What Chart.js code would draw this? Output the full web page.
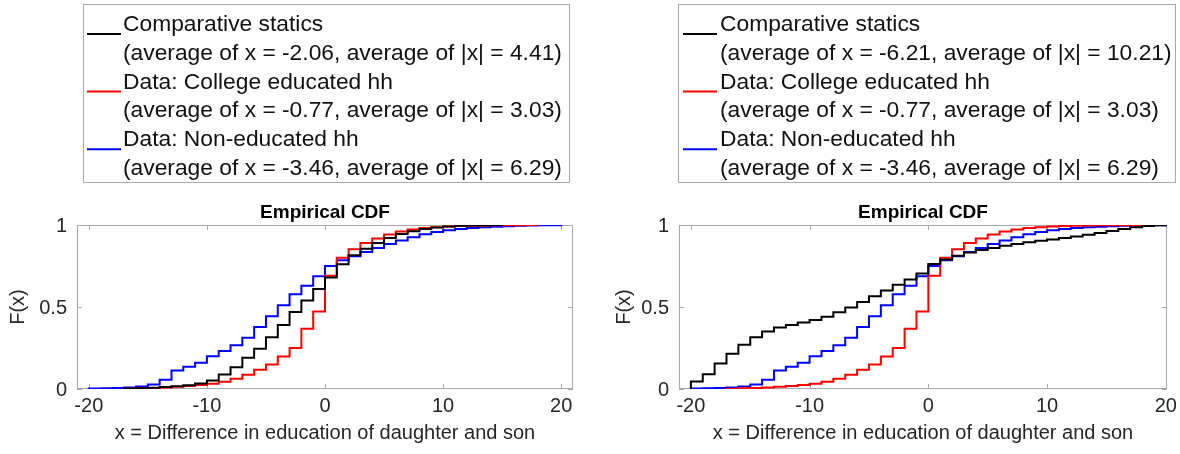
<!DOCTYPE html>
<html>
<head>
<meta charset="utf-8">
<script src="https://cdn.jsdelivr.net/npm/chart.js@4.4.1/dist/chart.umd.min.js"></script>
<style>
  html, body { margin: 0; padding: 0; background: #fff; }
  #wrap { position: relative; width: 1180px; height: 454px; overflow: hidden; }
  .panel { position: absolute; top: 0; width: 590px; height: 454px; }
</style>
</head>
<body>
<div id="wrap">
  <div class="panel" style="left:0"><canvas id="cdfLeft" width="590" height="454"></canvas></div>
  <div class="panel" style="left:590px"><canvas id="cdfRight" width="590" height="454"></canvas></div>
</div>
<script>
const xTicks = [-20, -10, 0, 10, 20];
const yTicks = [0, 0.5, 1];

// Data: College educated hh (same sample in both panels)
const collegeX = [-17, -16, -15, -14, -13, -12, -11, -10, -9, -8, -7, -6, -5, -4, -3, -2, -1, 0,
  1, 2, 3, 4, 5, 6, 7, 8, 9, 10, 11, 12, 13, 14, 15, 16, 17, 18];
const collegeF = [0.002, 0.004, 0.006, 0.009, 0.013, 0.018, 0.024, 0.032, 0.044, 0.063, 0.087, 0.117, 0.15, 0.198, 0.25, 0.368, 0.472, 0.69,
  0.80, 0.852, 0.89, 0.918, 0.942, 0.96, 0.972, 0.981, 0.987, 0.991, 0.994, 0.996, 0.997, 0.998, 0.999, 0.999, 0.9995, 1];

// Data: Non-educated hh (same sample in both panels)
const nonEduX = [-20, -19, -18, -17, -16, -15, -14, -13, -12, -11, -10, -9, -8, -7, -6, -5, -4, -3, -2, -1, 0,
  1, 2, 3, 4, 5, 6, 7, 8, 9, 10, 11, 12, 13, 14, 15, 16, 17, 18, 19, 20];
const nonEduF = [0.003, 0.004, 0.006, 0.009, 0.015, 0.028, 0.056, 0.113, 0.135, 0.16, 0.2, 0.232, 0.267, 0.312, 0.378, 0.443, 0.51, 0.577, 0.63, 0.688, 0.75,
  0.785, 0.81, 0.835, 0.86, 0.884, 0.906, 0.926, 0.944, 0.957, 0.968, 0.976, 0.982, 0.986, 0.99, 0.993, 0.995, 0.997, 0.998, 0.999, 1];

// Comparative statics, left panel
const staticsLeftX = [-17, -16, -15, -14, -13, -12, -11, -10, -9, -8, -7, -6, -5, -4, -3, -2, -1, 0,
  1, 2, 3, 4, 5, 6, 7, 8, 9, 10, 11, 12, 13, 14, 15];
const staticsLeftF = [0.003, 0.005, 0.008, 0.012, 0.017, 0.023, 0.034, 0.052, 0.088, 0.133, 0.19, 0.245, 0.315, 0.39, 0.47, 0.54, 0.61, 0.68,
  0.76, 0.815, 0.855, 0.89, 0.92, 0.945, 0.962, 0.975, 0.985, 0.991, 0.995, 0.997, 0.999, 0.9995, 1];

// Comparative statics, right panel
const staticsRightX = [-20, -19, -18, -17, -16, -15, -14, -13, -12, -11, -10, -9, -8, -7, -6, -5, -4, -3, -2, -1, 0,
  1, 2, 3, 4, 5, 6, 7, 8, 9, 10, 11, 12, 13, 14, 15, 16, 17, 18, 19, 20];
const staticsRightF = [0.045, 0.09, 0.155, 0.215, 0.27, 0.315, 0.35, 0.375, 0.39, 0.405, 0.42, 0.44, 0.468, 0.497, 0.53, 0.565, 0.6, 0.635, 0.668, 0.705, 0.762,
  0.79, 0.812, 0.832, 0.848, 0.86, 0.874, 0.884, 0.895, 0.904, 0.912, 0.92, 0.93, 0.94, 0.951, 0.964, 0.976, 0.986, 0.994, 0.998, 1];

const legendLeft = [
  ["Comparative statics", "(average of x = -2.06, average of |x| = 4.41)"],
  ["Data: College educated hh", "(average of x = -0.77, average of |x| = 3.03)"],
  ["Data: Non-educated hh", "(average of x = -3.46, average of |x| = 6.29)"]
];
const legendRight = [
  ["Comparative statics", "(average of x = -6.21, average of |x| = 10.21)"],
  ["Data: College educated hh", "(average of x = -0.77, average of |x| = 3.03)"],
  ["Data: Non-educated hh", "(average of x = -3.46, average of |x| = 6.29)"]
];
const seriesColors = ['#000000', '#ff0000', '#0000ff'];

const FONT = '"Liberation Sans", Arial, Helvetica, sans-serif';
Chart.defaults.font.family = FONT;
Chart.defaults.color = '#262626';

// ecdf as MATLAB draws it: starts at (min, 0), then steps
function ecdfPoints(xs, fs) {
  const pts = [{ x: xs[0], y: 0 }];
  xs.forEach((x, i) => pts.push({ x: x, y: fs[i] }));
  return pts;
}

// box, inward ticks and y tick labels (MATLAB style)
const framePlugin = {
  id: 'frame',
  beforeDatasetsDraw(chart) {
    const { ctx, chartArea: a, scales } = chart;
    ctx.save();
    ctx.strokeStyle = '#a8a8a8';
    ctx.lineWidth = 1;
    ctx.strokeRect(a.left + 0.5, a.top + 0.5, a.right - a.left - 1, a.bottom - a.top - 1);
    ctx.beginPath();
    xTicks.forEach(v => {
      const p = Math.round(scales.x.getPixelForValue(v)) + 0.5;
      ctx.moveTo(p, a.bottom); ctx.lineTo(p, a.bottom - 5);
      ctx.moveTo(p, a.top); ctx.lineTo(p, a.top + 5);
    });
    yTicks.forEach(v => {
      const p = Math.round(scales.y.getPixelForValue(v)) + 0.5;
      ctx.moveTo(a.left, p); ctx.lineTo(a.left + 5, p);
      ctx.moveTo(a.right, p); ctx.lineTo(a.right - 5, p);
    });
    ctx.stroke();

    ctx.fillStyle = '#262626';
    ctx.font = '20px ' + FONT;
    ctx.textAlign = 'right';
    ctx.textBaseline = 'middle';
    yTicks.forEach(v => {
      ctx.fillText(String(v), a.left - 10, scales.y.getPixelForValue(v) + 1);
    });
    ctx.restore();
  }
};

const legendBoxPlugin = {
  id: 'legendBox',
  afterDraw(chart, args, opts) {
    const ctx = chart.ctx;
    const [bx, by, bw, bh] = opts.box;
    ctx.save();
    ctx.fillStyle = '#fff';
    ctx.fillRect(bx, by, bw, bh);
    ctx.strokeStyle = '#a8a8a8';
    ctx.lineWidth = 1;
    ctx.strokeRect(bx + 0.5, by + 0.5, bw, bh);
    ctx.font = '22.8px ' + FONT;
    ctx.textBaseline = 'alphabetic';
    ctx.textAlign = 'left';
    opts.entries.forEach((entry, i) => {
      const base = opts.firstBaseline + i * 2 * opts.lineStep;
      ctx.strokeStyle = seriesColors[i];
      ctx.lineWidth = 2;
      ctx.beginPath();
      ctx.moveTo(opts.sampleX[0], base + 3);
      ctx.lineTo(opts.sampleX[1], base + 3);
      ctx.stroke();
      ctx.fillStyle = '#111';
      ctx.fillText(entry[0], opts.textX, base);
      ctx.fillText(entry[1], opts.textX, base + opts.lineStep);
    });
    ctx.restore();
  }
};

function makeChart(id, datasets, xMax, axisWidth, yTitlePad, legendOpts) {
  return new Chart(document.getElementById(id), {
    type: 'line',
    data: {
      datasets: datasets.map((d, i) => ({
        label: legendOpts.entries[i][0],
        data: ecdfPoints(d[0], d[1]),
        borderColor: seriesColors[i],
        borderWidth: 2,
        pointRadius: 0,
        stepped: true,
        fill: false
      }))
    },
    options: {
      responsive: false,
      animation: false,
      events: [],
      layout: { padding: { top: 195, right: 590 - legendOpts.plotRight, left: 0, bottom: 0 } },
      scales: {
        x: {
          type: 'linear',
          min: -21,
          max: xMax,
          afterBuildTicks: s => { s.ticks = xTicks.map(v => ({ value: v })); },
          afterFit: s => { s.height = 65; },
          grid: { display: false },
          border: { display: false },
          ticks: { font: { size: 20 }, padding: -3, maxRotation: 0, callback: v => String(v) },
          title: {
            display: true,
            text: 'x = Difference in education of daughter and son',
            font: { size: 20 },
            color: '#262626',
            padding: { top: 0, bottom: 9 }
          }
        },
        y: {
          min: 0,
          max: 1,
          afterBuildTicks: s => { s.ticks = yTicks.map(v => ({ value: v })); },
          afterFit: s => { s.width = axisWidth; },
          grid: { display: false },
          border: { display: false },
          ticks: { display: false },
          title: {
            display: true,
            text: 'F(x)',
            font: { size: 20 },
            color: '#262626',
            padding: { top: yTitlePad, bottom: 0 }
          }
        }
      },
      plugins: {
        legend: { display: false },
        tooltip: { enabled: false },
        title: {
          display: true,
          text: 'Empirical CDF',
          fullSize: false,
          color: '#000',
          font: { size: 19, weight: 'bold' },
          padding: { top: 6, bottom: 1.2 }
        },
        legendBox: legendOpts
      }
    },
    plugins: [framePlugin, legendBoxPlugin]
  });
}

makeChart('cdfLeft',
  [[staticsLeftX, staticsLeftF], [collegeX, collegeF], [nonEduX, nonEduF]],
  21, 77, 6,
  { entries: legendLeft, box: [83, 4, 486, 178], sampleX: [87, 121], textX: 123,
    firstBaseline: 31, lineStep: 28.8, plotRight: 573 });

makeChart('cdfRight',
  [[staticsRightX, staticsRightF], [collegeX, collegeF], [nonEduX, nonEduF]],
  20.1, 89, 22,
  { entries: legendRight, box: [88, 4, 497, 178], sampleX: [93, 127], textX: 130,
    firstBaseline: 31, lineStep: 28.8, plotRight: 577 });
</script>
</body>
</html>
